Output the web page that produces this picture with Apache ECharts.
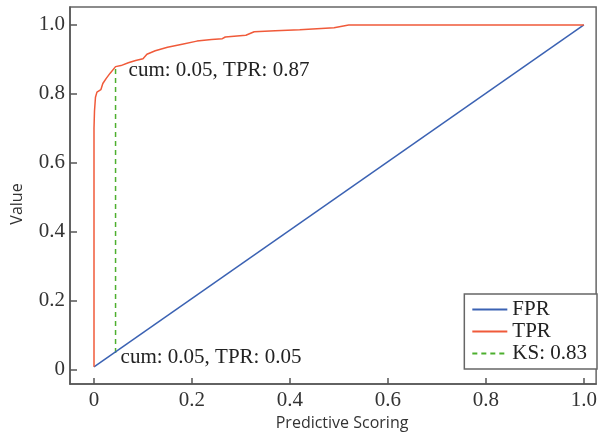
<!DOCTYPE html>
<html>
<head>
<meta charset="utf-8">
<script src="https://cdn.jsdelivr.net/npm/echarts@6/dist/echarts.min.js"></script>
<style>
  html, body { margin: 0; padding: 0; background: #fff; }
  #chart { width: 600px; height: 439px; }
</style>
</head>
<body>
<div id="chart"></div>
<script>
// curva TPR (x = cum, y = tasa)
const tprData = [
  [0, 0.008], [0, 0.70], [0.001, 0.75], [0.003, 0.79], [0.006, 0.805],
  [0.009, 0.81], [0.014, 0.812], [0.018, 0.83], [0.025, 0.845],
  [0.033, 0.86], [0.044, 0.879], [0.055, 0.882], [0.07, 0.89],
  [0.085, 0.897], [0.1, 0.902], [0.108, 0.915], [0.125, 0.925],
  [0.15, 0.935], [0.18, 0.944], [0.21, 0.953], [0.24, 0.958],
  [0.262, 0.96], [0.268, 0.965], [0.31, 0.97], [0.327, 0.98],
  [0.37, 0.983], [0.42, 0.986], [0.49, 0.992], [0.52, 1.0], [1.0, 1.0]
];
const fprData = [[0, 0.008], [1.0, 1.0]];
const ksData = [[0.044, 0.048], [0.044, 0.879]];
const tickValues = [0, 0.2, 0.4, 0.6, 0.8, 1.0];
const topNote = "cum: 0.05, TPR: 0.87";
const bottomNote = "cum: 0.05, TPR: 0.05";

const serif = "Liberation Serif";
const fmt = (v) => (v === 0 ? "0" : v.toFixed(1));

const chart = echarts.init(document.getElementById("chart"));

const option = {
  animation: false,
  grid: {
    left: 70,
    right: 2,
    top: 7,
    bottom: 55,
    show: true,
    borderColor: "#666",
    borderWidth: 1.5,
  },
  legend: {
    orient: "vertical",
    right: 3,
    top: 294,
    padding: [5, 10, 5, 7],
    itemWidth: 35,
    itemHeight: 12,
    itemGap: 1,
    borderColor: "#666",
    borderWidth: 1.5,
    backgroundColor: "#fff",
    itemStyle: { opacity: 0 },
    textStyle: { fontFamily: serif, fontSize: 21, color: "#222", lineHeight: 21 },
    data: ["FPR", "TPR", "KS: 0.83"],
  },
  xAxis: {
    type: "value",
    min: -0.049,
    max: 1.025,
    name: "Predictive Scoring",
    nameLocation: "middle",
    nameGap: 30,
    nameTextStyle: { fontFamily: "Open Sans", fontSize: 16, color: "#333", padding: [0, 0, 0, 18] },
    splitLine: { show: false },
    axisLine: { onZero: false, lineStyle: { color: "#555", width: 1.5 } },
    axisTick: { inside: true, length: 6, customValues: tickValues, lineStyle: { color: "#555", width: 1.5 } },
    axisLabel: {
      customValues: tickValues,
      formatter: fmt,
      margin: 6,
      fontFamily: serif,
      fontSize: 21,
      color: "#333",
    },
  },
  yAxis: {
    type: "value",
    min: -0.042,
    max: 1.052,
    name: "Value",
    nameLocation: "middle",
    nameGap: 45,
    nameTextStyle: { fontFamily: "Open Sans", fontSize: 16, color: "#333", padding: [0, 17, 0, 0] },
    splitLine: { show: false },
    axisLine: { onZero: false, lineStyle: { color: "#555", width: 1.5 } },
    axisTick: { inside: true, length: 7, customValues: tickValues, lineStyle: { color: "#555", width: 1.5 } },
    axisLabel: {
      customValues: tickValues,
      formatter: fmt,
      margin: 5,
      fontFamily: serif,
      fontSize: 21,
      color: "#333",
    },
  },
  series: [
    {
      name: "FPR",
      type: "line",
      data: fprData,
      symbol: "none",
      lineStyle: { color: "#3b62b3", width: 1.5 },
      itemStyle: { color: "#3b62b3" },
    },
    {
      name: "TPR",
      type: "line",
      data: tprData,
      symbol: "none",
      lineStyle: { color: "#f05a3a", width: 1.5 },
      itemStyle: { color: "#f05a3a" },
    },
    {
      name: "KS: 0.83",
      type: "line",
      data: ksData,
      symbol: "none",
      z: 1,
      lineStyle: { color: "#4daf2e", width: 1.5, type: [5, 4] },
      itemStyle: { color: "#4daf2e" },
      markPoint: {
        symbol: "circle",
        symbolSize: 0,
        label: {
          show: true,
          position: "right",
          fontFamily: serif,
          fontSize: 21,
          color: "#222",
        },
        data: [
          { coord: ksData[1], label: { formatter: topNote, offset: [8, 4] } },
          { coord: ksData[0], label: { formatter: bottomNote, offset: [0, 4] } },
        ],
      },
    },
  ],
};

chart.setOption(option);
</script>
</body>
</html>
